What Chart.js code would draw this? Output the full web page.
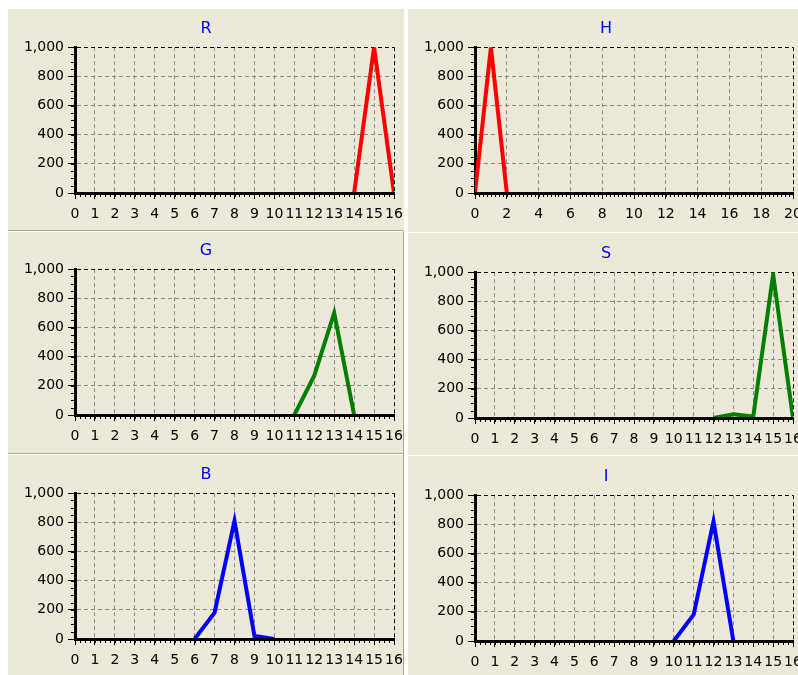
<!DOCTYPE html>
<html>
<head>
<meta charset="utf-8">
<script src="https://cdn.jsdelivr.net/npm/chart.js@4.4.0/dist/chart.umd.min.js"></script>
<style>
  html, body { margin:0; padding:0; background:#fff; width:798px; height:675px; overflow:hidden; position:relative; }
  .col { position:absolute; background:#ece9d8; }
  .linea { position:absolute; height:1px; }
  .panel { position:absolute; width:396px; height:222px; }
</style>
</head>
<body>
<div class="col" style="left:8px;top:9px;width:396px;height:666px"></div>
<div class="col" style="left:408px;top:9px;width:390px;height:666px"></div>
<div class="linea" style="left:8px;top:230px;width:395px;background:#a8a698"></div>
<div class="linea" style="left:8px;top:231px;width:395px;background:#fff"></div>
<div class="linea" style="left:8px;top:453px;width:395px;background:#a8a698"></div>
<div class="linea" style="left:8px;top:454px;width:395px;background:#fff"></div>
<div class="linea" style="left:408px;top:232px;width:390px;background:#fff"></div>
<div class="linea" style="left:408px;top:455px;width:390px;background:#fff"></div>
<div style="position:absolute;left:403px;top:231px;width:1px;height:444px;background:#a8a698"></div>

<div class="panel" style="left:8px;top:9px"><canvas id="cR"></canvas></div>
<div class="panel" style="left:408px;top:9px"><canvas id="cH"></canvas></div>
<div class="panel" style="left:8px;top:231px"><canvas id="cG"></canvas></div>
<div class="panel" style="left:408px;top:234px"><canvas id="cS"></canvas></div>
<div class="panel" style="left:8px;top:455px"><canvas id="cB"></canvas></div>
<div class="panel" style="left:408px;top:457px"><canvas id="cI"></canvas></div>

<script>
// ejes
const ejeX16 = [0,1,2,3,4,5,6,7,8,9,10,11,12,13,14,15,16]
const ejeX20 = [0,1,2,3,4,5,6,7,8,9,10,11,12,13,14,15,16,17,18,19,20]
const ticksX16 = [0,1,2,3,4,5,6,7,8,9,10,11,12,13,14,15,16]
const ticksX20 = [0,2,4,6,8,10,12,14,16,18,20]
const ticksY = [0,200,400,600,800,1000]

// histogramas
const valoresR = [0,0,0,0,0,0,0,0,0,0,0,0,0,0,0,1000,0]
const valoresH = [0,1000,0,0,0,0,0,0,0,0,0,0,0,0,0,0,0,0,0,0,0]
const valoresG = [0,0,0,0,0,0,0,0,0,0,0,0,270,700,0,0,0]
const valoresS = [0,0,0,0,0,0,0,0,0,0,0,0,0,25,10,985,0]
const valoresB = [0,0,0,0,0,0,0,180,810,20,0,0,0,0,0,0,0]
const valoresI = [0,0,0,0,0,0,0,0,0,0,0,180,820,0,0,0,0]

const fuente = 'DejaVu Sans'

// eje inferior encima de la linea + marcas menores
const marcas = {
    id: 'marcas',
    afterDatasetsDraw(chart) {
        const { ctx, chartArea: a, scales: { x, y } } = chart
        const y0 = y.getPixelForValue(0)
        ctx.save()
        ctx.strokeStyle = '#000'
        ctx.lineWidth = 3
        ctx.beginPath()
        ctx.moveTo(a.left - 1, Math.round(y0) + 0.5)
        ctx.lineTo(a.right + 1, Math.round(y0) + 0.5)
        ctx.stroke()
        ctx.lineWidth = 1
        ctx.beginPath()
        for (let v = x.min; v <= x.max; v += 0.25) {
            const px = Math.round(x.getPixelForValue(v)) + 0.5
            ctx.moveTo(px, y0 + 1)
            ctx.lineTo(px, y0 + 4)
        }
        for (let v = y.min; v <= y.max; v += 50) {
            const py = Math.round(y.getPixelForValue(v)) + 0.5
            ctx.moveTo(a.left - 4, py)
            ctx.lineTo(a.left, py)
        }
        ctx.stroke()
        ctx.restore()
    }
}

const grilla = c => (c.tick && c.tick.value === c.scale.max) ? '#000' : '#8a8a8a'

const drawChart = (id, titulo, eje, ticksX, valores, color, derecha) => {
    const datos = eje.map((v, i) => ({ x: v, y: valores[i] }))
    return new Chart(document.getElementById(id), {
        type: 'line',
        data: {
            datasets: [{
                data: datos,
                borderColor: color,
                borderWidth: 4,
                pointRadius: 0,
                tension: 0,
                segment: {
                    borderColor: s => (s.p0.parsed.y === 0 && s.p1.parsed.y === 0) ? 'transparent' : color
                }
            }]
        },
        options: {
            responsive: true,
            maintainAspectRatio: false,
            animation: false,
            layout: { padding: 0 },
            plugins: {
                legend: { display: false },
                tooltip: { enabled: false },
                title: {
                    display: true,
                    text: titulo,
                    color: '#0000ff',
                    font: { family: fuente, size: 16, weight: 'normal' },
                    padding: { top: 10, bottom: 9 }
                }
            },
            scales: {
                x: {
                    type: 'linear',
                    min: ticksX[0],
                    max: ticksX[ticksX.length - 1],
                    afterBuildTicks: s => { s.ticks = ticksX.map(v => ({ value: v })) },
                    afterFit: s => { s.height = 38; s.paddingLeft = 0; s.paddingRight = derecha },
                    ticks: {
                        autoSkip: false, maxRotation: 0, minRotation: 0,
                        color: '#000', padding: 7,
                        font: { family: fuente, size: 14 }
                    },
                    grid: { color: grilla, lineWidth: 1, tickLength: 6, tickColor: '#000', tickBorderDash: [] },
                    border: { display: true, color: '#000', width: 3, dash: [4, 3] }
                },
                y: {
                    min: ticksY[0],
                    max: ticksY[ticksY.length - 1],
                    afterBuildTicks: s => { s.ticks = ticksY.map(v => ({ value: v })) },
                    afterFit: s => { s.width = 67; s.paddingTop = 0; s.paddingBottom = 0 },
                    ticks: {
                        color: '#000', padding: 4,
                        font: { family: fuente, size: 14 }
                    },
                    grid: { color: grilla, lineWidth: 1, tickLength: 7, tickColor: '#000', tickBorderDash: [] },
                    border: { display: true, color: '#000', width: 3, dash: [4, 3] }
                }
            }
        },
        plugins: [marcas]
    })
}

drawChart('cR', 'R', ejeX16, ticksX16, valoresR, '#ff0000', 10)
drawChart('cH', 'H', ejeX20, ticksX20, valoresH, '#ff0000', 11)
drawChart('cG', 'G', ejeX16, ticksX16, valoresG, '#008000', 10)
drawChart('cS', 'S', ejeX16, ticksX16, valoresS, '#008000', 11)
drawChart('cB', 'B', ejeX16, ticksX16, valoresB, '#0000ff', 10)
drawChart('cI', 'I', ejeX16, ticksX16, valoresI, '#0000ff', 11)
</script>
</body>
</html>
